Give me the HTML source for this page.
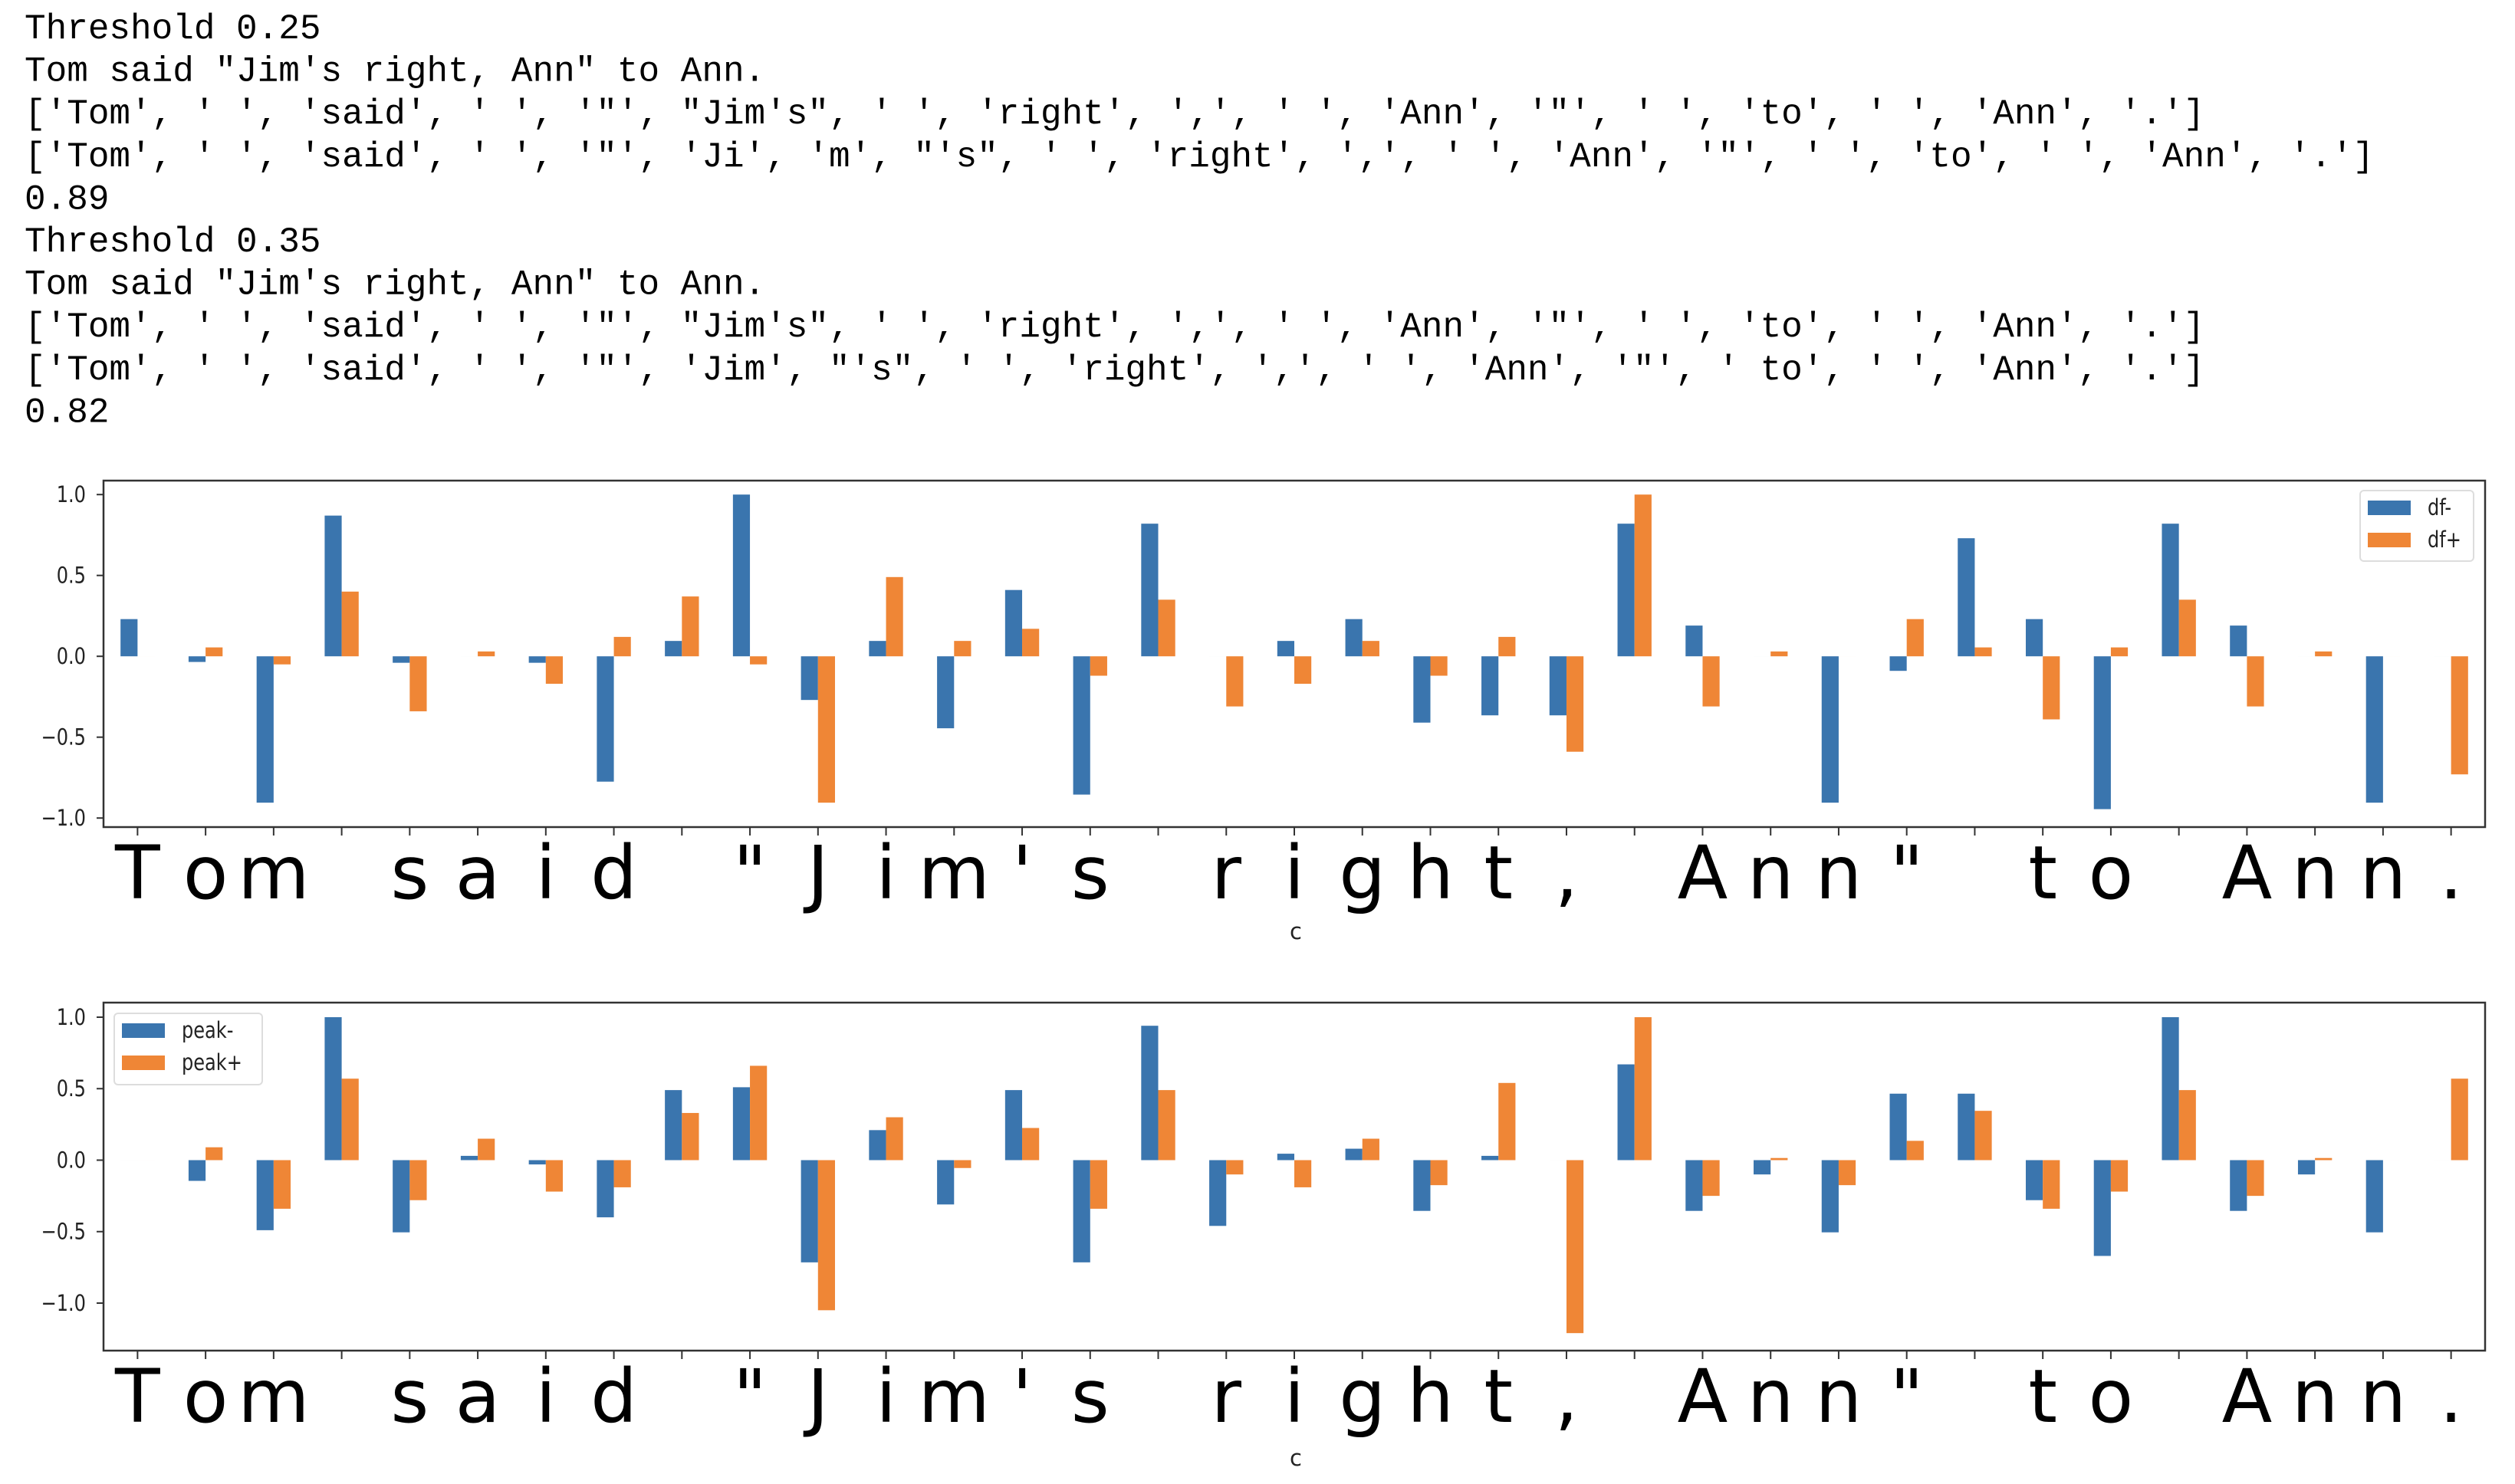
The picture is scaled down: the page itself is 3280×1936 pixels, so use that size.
<!DOCTYPE html>
<html><head><meta charset="utf-8"><style>
html,body{margin:0;padding:0;background:#fff;}
svg{display:block;}
.mono{font-family:"Liberation Mono","DejaVu Sans Mono",monospace;font-size:46px;fill:#000;}
.tick{font-family:"DejaVu Sans","Liberation Sans",sans-serif;font-size:29px;fill:#222;}
.big{font-family:"DejaVu Sans","Liberation Sans",sans-serif;font-size:96px;fill:#000;}
</style></head><body>
<svg id="root" width="3280" height="1936" viewBox="0 0 3280 1936" xmlns="http://www.w3.org/2000/svg">
<g id="textblock"></g>
<g id="chart1"></g>
<g id="chart2"></g>
</svg>
<script>
const outputLines = [
"Threshold 0.25",
"Tom said \"Jim's right, Ann\" to Ann.",
"['Tom', ' ', 'said', ' ', '\"', \"Jim's\", ' ', 'right', ',', ' ', 'Ann', '\"', ' ', 'to', ' ', 'Ann', '.']",
"['Tom', ' ', 'said', ' ', '\"', 'Ji', 'm', \"'s\", ' ', 'right', ',', ' ', 'Ann', '\"', ' ', 'to', ' ', 'Ann', '.']",
"0.89",
"Threshold 0.35",
"Tom said \"Jim's right, Ann\" to Ann.",
"['Tom', ' ', 'said', ' ', '\"', \"Jim's\", ' ', 'right', ',', ' ', 'Ann', '\"', ' ', 'to', ' ', 'Ann', '.']",
"['Tom', ' ', 'said', ' ', '\"', 'Jim', \"'s\", ' ', 'right', ',', ' ', 'Ann', '\"', ' to', ' ', 'Ann', '.']",
"0.82"
];
const categories = "Tom said \"Jim's right, Ann\" to Ann.".split("");
const dfMinus = [0.23,-0.035,-0.905,0.87,-0.04,0,-0.04,-0.775,0.095,1.0,-0.27,0.095,-0.445,0.41,-0.855,0.82,0,0.095,0.23,-0.41,-0.365,-0.365,0.82,0.19,0,-0.905,-0.09,0.73,0.23,-0.945,0.82,0.19,0,-0.905,0];
const dfPlus = [0,0.055,-0.05,0.40,-0.34,0.03,-0.17,0.12,0.37,-0.05,-0.905,0.49,0.095,0.17,-0.12,0.35,-0.31,-0.17,0.095,-0.12,0.12,-0.59,1.0,-0.31,0.03,0,0.23,0.055,-0.39,0.055,0.35,-0.31,0.03,0,-0.73];
const peakMinus = [0,-0.145,-0.49,1.0,-0.505,0.03,-0.03,-0.40,0.49,0.51,-0.715,0.21,-0.31,0.49,-0.715,0.94,-0.46,0.045,0.08,-0.355,0.03,0,0.67,-0.355,-0.10,-0.505,0.465,0.465,-0.28,-0.67,1.0,-0.355,-0.10,-0.505,0];
const peakPlus = [0,0.09,-0.34,0.57,-0.28,0.15,-0.22,-0.19,0.33,0.66,-1.05,0.30,-0.055,0.225,-0.34,0.49,-0.10,-0.19,0.15,-0.175,0.54,-1.21,1.0,-0.25,0.015,-0.175,0.135,0.345,-0.34,-0.22,0.49,-0.25,0.015,0,0.57];
const yTicks = [-1.0,-0.5,0.0,0.5,1.0];
const yTickLabels = ["\u22121.0","\u22120.5","0.0","0.5","1.0"];
const seriesNames1 = ["df-","df+"];
const seriesNames2 = ["peak-","peak+"];

const NS="http://www.w3.org/2000/svg";
function mk(tag, attrs, parent){const e=document.createElementNS(NS,tag);for(const k in attrs)e.setAttribute(k,attrs[k]);parent.appendChild(e);return e;}

const tb=document.getElementById('textblock');
outputLines.forEach((s,i)=>{
  const t=mk('text',{x:32,y:50+55.6*i,class:'mono'},tb);
  
  
  t.setAttribute('xml:space','preserve');
  t.textContent=s;
});

const BLUE="#3a75ae", ORANGE="#ef8636";
function drawChart(g, cfg, vA, vB, names){
  const L=135,R=3241,T=cfg.top,B=cfg.bottom;
  const n=categories.length;
  const xs=i=>L+(i+0.5-0)*(R-L)/n;
  const ys=v=>cfg.zeroY - v*cfg.unit;
  const bw=0.25*(R-L)/n;
  // bars
  [vA,vB].forEach((arr,si)=>{
    arr.forEach((v,i)=>{
      const x=xs(i)-bw+si*bw;
      const y0=ys(0), y1=ys(v);
      const r=mk('rect',{x:x,y:Math.min(y0,y1),width:bw,height:Math.max(Math.abs(y1-y0),0.01),fill:si?ORANGE:BLUE},g);
      
      
    });
  });
  // frame
  const fr=mk('rect',{x:L,y:T,width:R-L,height:B-T,fill:'none',stroke:'#333',"stroke-width":2.5},g);
  
  
  // y ticks
  yTicks.forEach((v,i)=>{
    const y=ys(v);
    const tl=mk('line',{x1:L-9,x2:L,y1:y,y2:y,stroke:'#333',"stroke-width":2},g);
    
    
    const tx=mk('text',{x:112,y:y+10,class:'tick',"text-anchor":'end',transform:`translate(112 0) scale(0.83 1) translate(-112 0)`},g);
    
    
    tx.textContent=yTickLabels[i];
  });
  // x ticks
  categories.forEach((c,i)=>{
    const x=xs(i);
    const tl=mk('line',{x1:x,x2:x,y1:B,y2:B+11,stroke:'#333',"stroke-width":2},g);
    
    
    const tx=mk('text',{x:x,y:cfg.labelBase,class:'big',"text-anchor":'middle'},g);
    
    
    tx.setAttribute('xml:space','preserve');
    tx.textContent=c;
  });
  const xt=mk('text',{x:1690,y:cfg.cY,class:'tick',"text-anchor":'middle'},g);
  
  
  xt.textContent='c';
  // legend
  const lg=cfg.legend;
  const lb=mk('rect',{x:lg.x,y:lg.y,width:lg.w,height:lg.h,rx:5,fill:'#fff',"fill-opacity":0.85,stroke:'#ddd',"stroke-width":2},g);
  
  
  names.forEach((nm,si)=>{
    const py=lg.y+13+si*42;
    const p=mk('rect',{x:lg.x+10,y:py,width:56,height:19,fill:si?ORANGE:BLUE},g);
    
    
    const t=mk('text',{x:lg.x+88,y:py+19,class:'tick',transform:`translate(${lg.x+88} 0) scale(0.83 1) translate(${-(lg.x+88)} 0)`},g);
    
    
    t.textContent=nm;
  });
}
drawChart(document.getElementById('chart1'),{top:627,bottom:1079,zeroY:856.2,unit:211,labelBase:1172,cY:1225,legend:{x:3078,y:640,w:148,h:92}},dfMinus,dfPlus,seriesNames1);
drawChart(document.getElementById('chart2'),{top:1308,bottom:1762,zeroY:1513.5,unit:186.5,labelBase:1855,cY:1912,legend:{x:149,y:1322,w:193,h:93}},peakMinus,peakPlus,seriesNames2);
</script>
</body></html>
